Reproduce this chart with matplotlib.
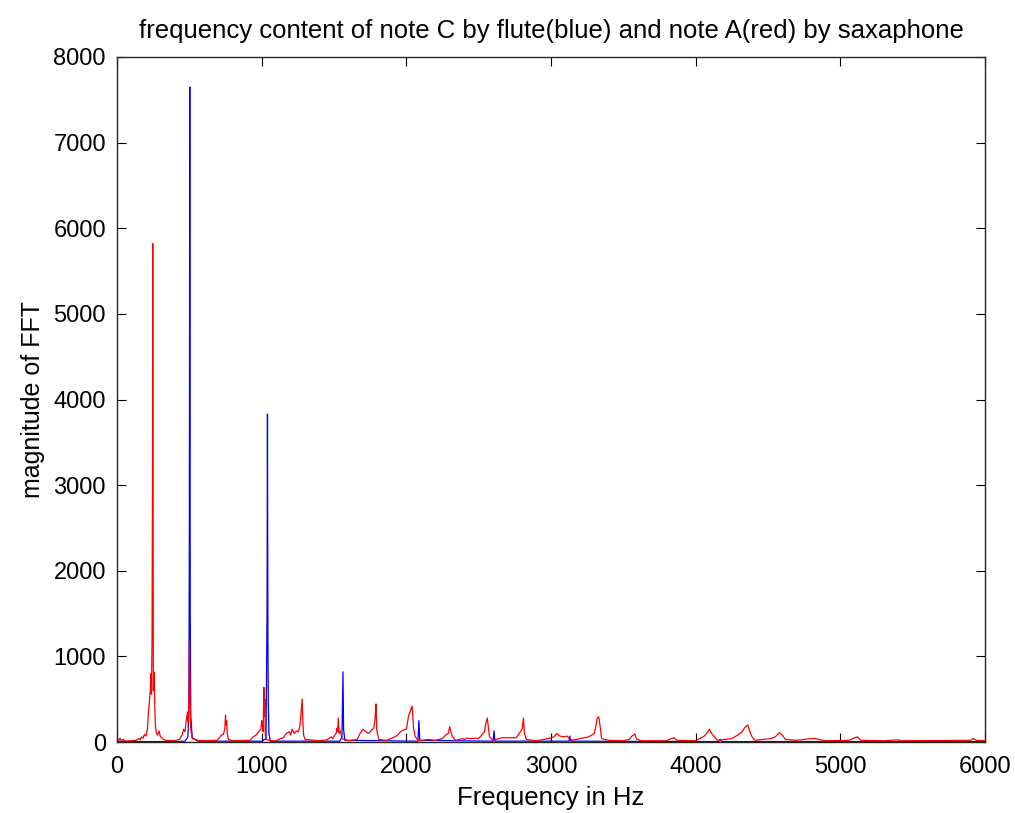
import numpy as np
import matplotlib.pyplot as plt

plt.rcParams['font.family'] = ['Liberation Sans', 'DejaVu Sans']

# flute, note C (blue)
flute_freq = [0, 100, 400, 470, 490, 497, 500, 503, 506, 510, 520, 560,
              1000, 1030, 1037, 1040, 1043, 1046, 1050, 1060,
              1540, 1555, 1562, 1566, 1575,
              2080, 2087, 2093, 2600, 2606, 2612, 3125, 3130, 3136,
              4160, 4170, 4180, 6000]
flute_mag = [10, 5, 5, 10, 60, 400, 2500, 7650, 1500, 300, 50, 10,
             10, 40, 1500, 3830, 1200, 450, 100, 10,
             10, 60, 820, 150, 20,
             10, 250, 20, 10, 130, 10, 10, 70, 10,
             5, 30, 5, 5]

# saxophone, note A (red)
sax_freq = [0, 10, 20, 30, 40, 60, 100, 130, 150, 160, 170, 180, 190, 200, 210,
            215, 220, 225, 230, 235, 238, 242, 245, 247, 249, 251, 254, 257, 260,
            265, 270, 280, 290, 300, 310, 320, 340, 400, 430, 450, 460, 470, 480,
            488, 492, 496, 500, 503, 506, 510, 520, 560, 600, 690, 710, 720, 735,
            745, 750, 754, 758, 762, 770, 800, 920, 940, 960, 980, 995, 1000, 1005,
            1010, 1015, 1019, 1022, 1025, 1030, 1060, 1100, 1130, 1150, 1170, 1190,
            1200, 1210, 1225, 1240, 1255, 1265, 1275, 1280, 1284, 1290, 1300, 1400,
            1450, 1480, 1490, 1505, 1515, 1520, 1525, 1530, 1535, 1545, 1555, 1600,
            1660, 1680, 1700, 1720, 1740, 1760, 1775, 1785, 1790, 1795, 1800, 1810,
            1860, 1900, 1920, 1940, 1960, 1980, 2000, 2015, 2025, 2040, 2050, 2060,
            2080, 2100, 2150, 2200, 2250, 2270, 2290, 2300, 2310, 2320, 2340, 2390,
            2400, 2420, 2450, 2480, 2500, 2520, 2540, 2550, 2560, 2565, 2575, 2600,
            2660, 2700, 2760, 2780, 2800, 2810, 2816, 2830, 2900, 2980, 3020, 3040,
            3060, 3090, 3110, 3130, 3150, 3200, 3230, 3260, 3280, 3300, 3320, 3330,
            3340, 3350, 3400, 3500, 3540, 3560, 3580, 3590, 3620, 3800, 3830, 3850,
            3870, 4000, 4040, 4060, 4080, 4095, 4110, 4130, 4150, 4250, 4290, 4320,
            4340, 4360, 4375, 4390, 4410, 4520, 4550, 4580, 4600, 4620, 4700, 4800,
            4830, 4850, 4900, 5060, 5100, 5120, 5140, 5300, 5400, 5420, 5900, 5920,
            5940, 6000]
sax_mag = [40, 20, 45, 15, 30, 10, 15, 20, 40, 25, 60, 45, 90, 70, 150,
           300, 400, 500, 600, 800, 560, 1200, 3000, 5820, 3500, 600, 820, 800, 500,
           200, 120, 80, 130, 60, 50, 30, 20, 15, 30, 80, 150, 120, 280,
           350, 230, 500, 1190, 700, 300, 150, 40, 20, 15, 20, 50, 80, 90,
           150, 315, 200, 250, 100, 30, 15, 20, 60, 80, 120, 150, 250, 200,
           120, 640, 300, 500, 80, 30, 15, 15, 40, 50, 100, 120,
           80, 150, 100, 130, 120, 200, 400, 502, 250, 80, 30, 15,
           25, 60, 40, 80, 100, 160, 120, 280, 100, 130, 40, 15,
           30, 100, 150, 120, 100, 140, 160, 300, 444, 150, 100, 30,
           20, 45, 60, 80, 120, 140, 150, 300, 350, 420, 160, 70,
           20, 15, 30, 20, 40, 80, 100, 180, 100, 60, 20, 40,
           30, 45, 40, 45, 40, 80, 120, 220, 280, 200, 60, 20,
           50, 50, 50, 100, 150, 280, 100, 30, 15, 40, 60, 100,
           70, 60, 70, 40, 20, 40, 50, 60, 80, 100, 280, 295,
           180, 40, 20, 15, 30, 70, 93, 40, 15, 15, 40, 50,
           20, 15, 50, 70, 110, 150, 100, 60, 20, 40, 80, 120,
           170, 200, 120, 60, 20, 40, 60, 110, 80, 30, 20, 40,
           40, 30, 15, 20, 50, 60, 20, 15, 25, 15, 20, 40,
           20, 15]

fig = plt.figure(figsize=(10.15, 8.13), dpi=100)
ax = fig.add_axes([0.1153, 0.0873, 0.8551, 0.8426])

ax.plot(flute_freq, flute_mag, color='#0000ff', lw=0.9)
ax.plot(sax_freq, sax_mag, color='#ff0000', lw=0.9)

ax.set_xlim(0, 6000)
ax.set_ylim(0, 8000)
ax.set_xticks(np.arange(0, 6001, 1000))
ax.set_yticks(np.arange(0, 8001, 1000))
ax.tick_params(direction='in', top=True, right=True, length=6.5, width=0.8,
               labelsize=17)
ax.tick_params(axis='x', pad=10)
ax.tick_params(axis='y', pad=8)
for s in ax.spines.values():
    s.set_linewidth(1.0)
    s.set_color('#262626')

ax.set_title('frequency content of note C by flute(blue) and note A(red) by saxaphone',
             fontsize=18.5, pad=14)
ax.set_xlabel('Frequency in Hz', fontsize=18.5, labelpad=6)
ax.set_ylabel('magnitude of FFT', fontsize=18, labelpad=6)

fig.savefig('out.png', dpi=100)
